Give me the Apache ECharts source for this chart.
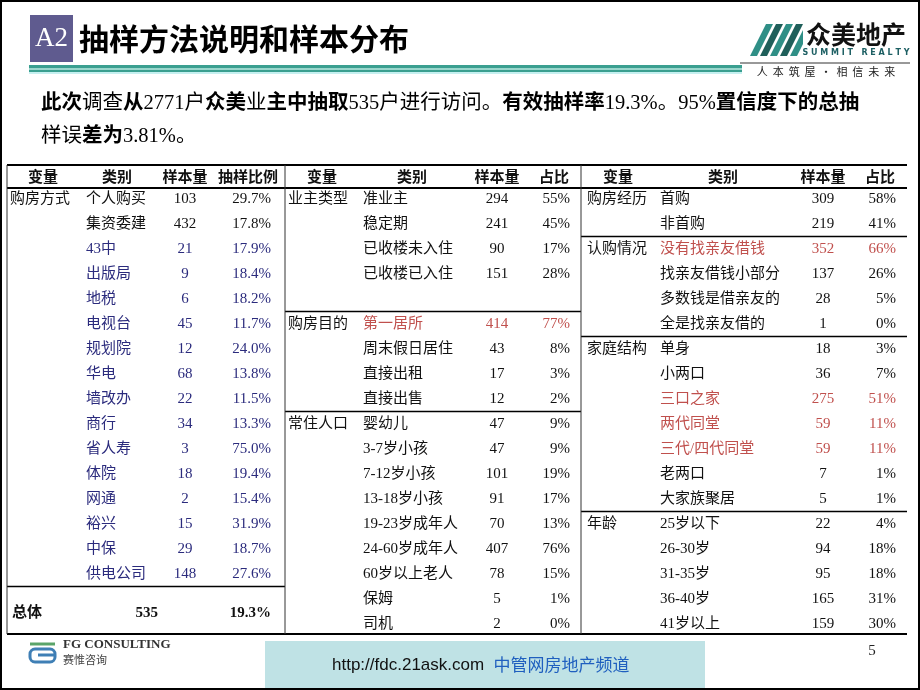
<!DOCTYPE html>
<html>
<head>
<meta charset="utf-8">
<script src="https://cdn.jsdelivr.net/npm/echarts@6.0.0/dist/echarts.min.js"></script>
<style>
  html, body { margin: 0; padding: 0; background: #fff; }
  #chart { width: 920px; height: 690px; }
</style>
</head>
<body>
<div id="chart"></div>
<script>
// ---- data ----
const headLeft = ['变量', '类别', '样本量', '抽样比例'];
const headOther = ['变量', '类别', '样本量', '占比'];

const buyModeCats = ['个人购买', '集资委建', '43中', '出版局', '地税', '电视台', '规划院', '华电',
  '墙改办', '商行', '省人寿', '体院', '网通', '裕兴', '中保', '供电公司'];
const buyModeN = [103, 432, 21, 9, 6, 45, 12, 68, 22, 34, 3, 18, 2, 15, 29, 148];
const buyModeRate = [29.7, 17.8, 17.9, 18.4, 18.2, 11.7, 24.0, 13.8, 11.5, 13.3, 75.0, 19.4, 15.4, 31.9, 18.7, 27.6];
const totalN = 535;
const totalRate = 19.3;

const ownerTypeCats = ['准业主', '稳定期', '已收楼未入住', '已收楼已入住'];
const ownerTypeN = [294, 241, 90, 151];
const ownerTypePct = [55, 45, 17, 28];

const purposeCats = ['第一居所', '周末假日居住', '直接出租', '直接出售'];
const purposeN = [414, 43, 17, 12];
const purposePct = [77, 8, 3, 2];

const residentCats = ['婴幼儿', '3-7岁小孩', '7-12岁小孩', '13-18岁小孩', '19-23岁成年人',
  '24-60岁成年人', '60岁以上老人', '保姆', '司机'];
const residentN = [47, 47, 101, 91, 70, 407, 78, 5, 2];
const residentPct = [9, 9, 19, 17, 13, 76, 15, 1, 0];

const historyCats = ['首购', '非首购'];
const historyN = [309, 219];
const historyPct = [58, 41];

const fundingCats = ['没有找亲友借钱', '找亲友借钱小部分', '多数钱是借亲友的', '全是找亲友借的'];
const fundingN = [352, 137, 28, 1];
const fundingPct = [66, 26, 5, 0];

const familyCats = ['单身', '小两口', '三口之家', '两代同堂', '三代/四代同堂', '老两口', '大家族聚居'];
const familyN = [18, 36, 275, 59, 59, 7, 5];
const familyPct = [3, 7, 51, 11, 11, 1, 1];

const ageCats = ['25岁以下', '26-30岁', '31-35岁', '36-40岁', '41岁以上'];
const ageN = [22, 94, 95, 165, 159];
const agePct = [4, 18, 18, 31, 30];

// ---- layout ----
const FONT = '"Liberation Serif", "Noto Sans CJK SC", serif';
const RED = '#c0504d';
const NAVY = '#2b2b7d';
const INK = '#111';

// x anchors in px (x axis runs 0..920 across the page)
const COLS = {
  left:  { varX: 10,  catX: 86,  nX: 185, pctX: 271, head: [43, 117, 185, 248], x1: 7,   x2: 285 },
  mid:   { varX: 288, catX: 363, nX: 497, pctX: 570, head: [322, 412, 497, 554], x1: 285, x2: 581 },
  right: { varX: 587, catX: 660, nX: 823, pctX: 896, head: [618, 723, 823, 880], x1: 581, x2: 907 }
};
const ROW_TOP = -1.36, ROW_HEAD = -0.84, ROW_HEAD_LINE = -0.44, ROW_BOTTOM = 17.4, ROW_TOTAL = 16.55;

const groups = [
  { block: 'left',  name: '购房方式', cats: buyModeCats,  n: buyModeN,  pct: buyModeRate, start: 0, dec: 1, red: [], blueFrom: 2 },
  { block: 'mid',   name: '业主类型', cats: ownerTypeCats, n: ownerTypeN, pct: ownerTypePct, start: 0, dec: 0, red: [] },
  { block: 'mid',   name: '购房目的', cats: purposeCats,  n: purposeN,  pct: purposePct,  start: 5, dec: 0, red: [0] },
  { block: 'mid',   name: '常住人口', cats: residentCats, n: residentN, pct: residentPct, start: 9, dec: 0, red: [] },
  { block: 'right', name: '购房经历', cats: historyCats,  n: historyN,  pct: historyPct,  start: 0, dec: 0, red: [] },
  { block: 'right', name: '认购情况', cats: fundingCats,  n: fundingN,  pct: fundingPct,  start: 2, dec: 0, red: [0] },
  { block: 'right', name: '家庭结构', cats: familyCats,   n: familyN,   pct: familyPct,   start: 6, dec: 0, red: [2, 3, 4] },
  { block: 'right', name: '年龄',     cats: ageCats,      n: ageN,      pct: agePct,      start: 13, dec: 0, red: [] }
];

// ---- build cells ----
const cells = [];
function cell(x, row, text, align, color, bold) {
  cells.push({ x, row, text: String(text), align, color: color || INK, bold: !!bold });
}
['left', 'mid', 'right'].forEach(b => {
  const head = b === 'left' ? headLeft : headOther;
  head.forEach((h, i) => cell(COLS[b].head[i], ROW_HEAD, h, 'center', INK, true));
});
groups.forEach(g => {
  const c = COLS[g.block];
  cell(c.varX, g.start, g.name, 'left');
  g.cats.forEach((cat, i) => {
    let color = INK;
    if (g.red.includes(i)) color = RED;
    else if (g.blueFrom !== undefined && i >= g.blueFrom) color = NAVY;
    const row = g.start + i;
    cell(c.catX, row, cat, 'left', color);
    cell(c.nX, row, g.n[i], 'center', color);
    cell(c.pctX, row, g.pct[i].toFixed(g.dec) + '%', 'right', color);
  });
});
cell(12, ROW_TOTAL, '总体', 'left', INK, true);
cell(158, ROW_TOTAL, totalN, 'right', INK, true);
cell(COLS.left.pctX, ROW_TOTAL, totalRate.toFixed(1) + '%', 'right', INK, true);

// ---- rules ----
const hRules = [
  [7, 907, ROW_TOP, 2],
  [7, 907, ROW_HEAD_LINE, 2],
  [7, 907, ROW_BOTTOM, 2],
  [COLS.left.x1, COLS.left.x2, buyModeCats.length - 0.5, 1.5]
];
groups.forEach(g => {
  if (g.start > 0) hRules.push([COLS[g.block].x1, COLS[g.block].x2, g.start - 0.5, 1.5]);
});
const vRules = [[7, ROW_TOP, ROW_BOTTOM], [285, ROW_TOP, ROW_BOTTOM], [581, ROW_TOP, ROW_BOTTOM]];

const chart = echarts.init(document.getElementById('chart'));
chart.setOption({
  animation: false,
  backgroundColor: '#fff',
  grid: { left: 0, right: 0, top: 165, height: 469 },
  xAxis: { type: 'value', min: 0, max: 920, show: false },
  yAxis: { type: 'value', min: ROW_TOP, max: ROW_BOTTOM, inverse: true, show: false },
  graphic: { elements: [
    // page frame
    { type: 'rect', shape: { x: 1, y: 1, width: 918, height: 688 }, style: { fill: 'none', stroke: '#000', lineWidth: 2 }, z: 100 },
    // title block
    { type: 'rect', shape: { x: 30, y: 15, width: 43, height: 47 }, style: { fill: '#5f5b8f' } },
    { type: 'text', x: 51.5, y: 39, style: { text: 'A2', fill: '#fff', font: '27px "Liberation Serif", serif', align: 'center', verticalAlign: 'middle' } },
    { type: 'text', x: 79, y: 39, style: { text: '抽样方法说明和样本分布', fill: '#000', fontSize: 30, fontWeight: 'bold', fontFamily: '"Noto Sans CJK SC", sans-serif', verticalAlign: 'middle' } },
    { type: 'rect', shape: { x: 29, y: 65, width: 713, height: 3 }, style: { fill: '#3a9f90' } },
    { type: 'rect', shape: { x: 29, y: 68, width: 713, height: 2 }, style: { fill: '#9ad6cc' } },
    { type: 'rect', shape: { x: 29, y: 70, width: 713, height: 2 }, style: { fill: '#3a9f90' } },
    { type: 'rect', shape: { x: 29, y: 72, width: 713, height: 2 }, style: { fill: '#c6f0f0' } },
    // logo
    { type: 'polygon', shape: { points: [[750, 56], [766, 24], [773, 24], [757, 56]] }, style: { fill: '#2f8f86' } },
    { type: 'polygon', shape: { points: [[760, 56], [776, 24], [783, 24], [767, 56]] }, style: { fill: '#1f5f5a' } },
    { type: 'polygon', shape: { points: [[770, 56], [786, 24], [793, 24], [777, 56]] }, style: { fill: '#2f8f86' } },
    { type: 'polygon', shape: { points: [[780, 56], [796, 24], [803, 24], [787, 56]] }, style: { fill: '#1f5f5a' } },
    { type: 'polygon', shape: { points: [[790, 56], [803, 30], [803, 44], [797, 56]] }, style: { fill: '#2f8f86' } },
    { type: 'text', x: 806, y: 34, style: { text: '众美地产', fill: '#111', fontSize: 25, fontWeight: 'bold', fontFamily: '"Noto Sans CJK SC", sans-serif', verticalAlign: 'middle' } },
    { type: 'text', x: 856, y: 53, style: { text: 'S U M M I T   R E A L T Y', fill: '#1d5f63', fontSize: 8, fontWeight: 'bold', fontFamily: '"DejaVu Sans", sans-serif', align: 'center', verticalAlign: 'middle' } },
    { type: 'line', shape: { x1: 740, y1: 63, x2: 910, y2: 63 }, style: { stroke: '#333', lineWidth: 1 } },
    { type: 'text', x: 826, y: 72, style: { text: '人  本  筑  屋  ·  相  信  未  来', fill: '#222', fontSize: 11, fontFamily: '"Noto Sans CJK SC", sans-serif', align: 'center', verticalAlign: 'middle' } },
    // intro text
    { type: 'text', x: 41, y: 104, style: {
      text: '{b|此次}调查{b|从}2771户{b|众美}业{b|主中抽取}535户进行访问。{b|有效抽样率}19.3%。95%{b|置信度下的总抽}',
      fill: '#000', fontSize: 20.5, fontFamily: FONT, verticalAlign: 'middle',
      rich: { b: { fontWeight: 'bold', fontSize: 20.5, fontFamily: FONT } } } },
    { type: 'text', x: 41, y: 137, style: {
      text: '样误{b|差为}3.81%。', fill: '#000', fontSize: 20.5, fontFamily: FONT, verticalAlign: 'middle',
      rich: { b: { fontWeight: 'bold', fontSize: 20.5, fontFamily: FONT } } } },
    // footer
    { type: 'line', shape: { x1: 30, y1: 644, x2: 55, y2: 644 }, style: { stroke: '#5aa469', lineWidth: 3 } },
    { type: 'rect', shape: { x: 30, y: 649, width: 25, height: 13, r: 5 }, style: { fill: 'none', stroke: '#3f7fb5', lineWidth: 3 } },
    { type: 'line', shape: { x1: 38, y1: 655, x2: 56, y2: 655 }, style: { stroke: '#3f7fb5', lineWidth: 3 } },
    { type: 'text', x: 63, y: 645, style: { text: 'FG CONSULTING', fill: '#333', fontSize: 13, fontWeight: 'bold', fontFamily: '"Liberation Serif", serif', verticalAlign: 'middle' } },
    { type: 'text', x: 63, y: 660, style: { text: '赛惟咨询', fill: '#444', fontSize: 11, fontFamily: '"Noto Sans CJK SC", sans-serif', verticalAlign: 'middle' } },
    { type: 'rect', shape: { x: 265, y: 641, width: 440, height: 48 }, style: { fill: '#bfe2e5' } },
    { type: 'text', x: 332, y: 665, style: {
      text: 'http://fdc.21ask.com  {c|中管网房地产频道}', fill: '#111', fontSize: 17,
      fontFamily: '"Liberation Sans", "Noto Sans CJK SC", sans-serif', verticalAlign: 'middle',
      rich: { c: { fill: '#1f5fbf', fontSize: 17, fontFamily: '"Noto Sans CJK SC", sans-serif' } } } },
    { type: 'text', x: 872, y: 651, style: { text: '5', fill: '#222', fontSize: 15, fontFamily: '"Liberation Serif", serif', align: 'center', verticalAlign: 'middle' } }
  ] },
  series: [
    {
      type: 'custom', clip: false, silent: true,
      encode: { x: [0, 1], y: 2 },
      data: hRules,
      renderItem: (params, api) => {
        const a = api.coord([api.value(0), api.value(2)]);
        const b = api.coord([api.value(1), api.value(2)]);
        return { type: 'line', shape: { x1: a[0], y1: a[1], x2: b[0], y2: b[1] }, style: { stroke: '#000', lineWidth: api.value(3) } };
      }
    },
    {
      type: 'custom', clip: false, silent: true,
      encode: { x: 0, y: [1, 2] },
      data: vRules,
      renderItem: (params, api) => {
        const a = api.coord([api.value(0), api.value(1)]);
        const b = api.coord([api.value(0), api.value(2)]);
        return { type: 'line', shape: { x1: a[0], y1: a[1], x2: b[0], y2: b[1] }, style: { stroke: '#333', lineWidth: 1 } };
      }
    },
    {
      type: 'custom', clip: false, silent: true,
      encode: { x: 0, y: 1 },
      data: cells.map(c => [c.x, c.row]),
      renderItem: (params, api) => {
        const c = cells[params.dataIndex];
        const p = api.coord([api.value(0), api.value(1)]);
        return { type: 'text', x: p[0], y: p[1], style: {
          text: c.text, align: c.align, verticalAlign: 'middle', fill: c.color,
          fontSize: 15, fontWeight: c.bold ? 'bold' : 'normal', fontFamily: FONT } };
      }
    }
  ]
});
</script>
</body>
</html>
